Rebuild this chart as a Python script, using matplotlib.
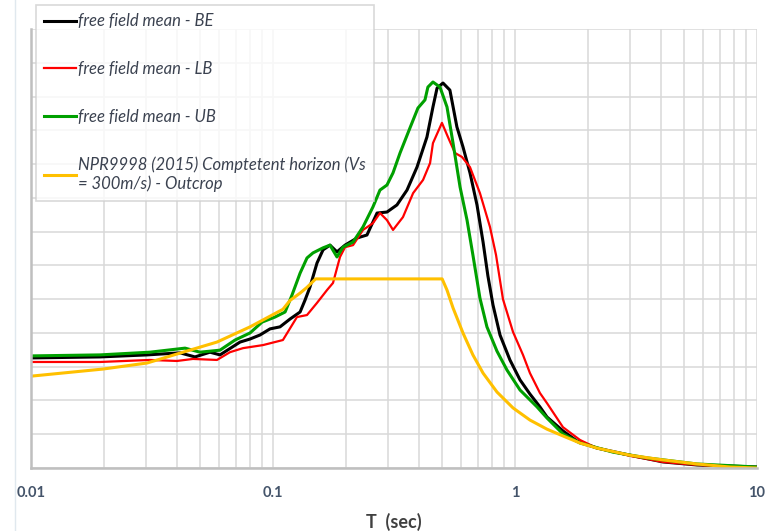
import matplotlib
matplotlib.use('Agg')
import matplotlib.pyplot as plt
from matplotlib.ticker import LogLocator, MultipleLocator, NullFormatter
from matplotlib.lines import Line2D

# period T (sec) and spectral values
t_be = [0.01, 0.0193, 0.0302, 0.0413, 0.0476, 0.0549, 0.0604, 0.0731, 0.0804, 0.0884,
        0.0972, 0.1069, 0.1175, 0.1294, 0.1356, 0.1422, 0.152, 0.161, 0.172, 0.1838,
        0.1985, 0.2223, 0.2445, 0.2691, 0.2958, 0.3252, 0.3579, 0.3936, 0.4326, 0.4581,
        0.4764, 0.504, 0.5383, 0.5754, 0.6095, 0.6516, 0.6966, 0.738, 0.7727, 0.811,
        0.867, 0.953, 1.049, 1.153, 1.268, 1.356, 1.578, 1.803, 2.182, 2.985,
        4.088, 5.649, 10.0]
sa_be = [0.326, 0.329, 0.335, 0.341, 0.329, 0.343, 0.335, 0.373, 0.382, 0.394,
         0.412, 0.418, 0.441, 0.462, 0.497, 0.536, 0.607, 0.646, 0.660, 0.640,
         0.660, 0.681, 0.690, 0.755, 0.758, 0.779, 0.823, 0.891, 0.980, 1.069,
         1.125, 1.140, 1.119, 1.010, 0.951, 0.874, 0.779, 0.669, 0.569, 0.483,
         0.394, 0.320, 0.261, 0.219, 0.181, 0.151, 0.110, 0.080, 0.059, 0.038,
         0.018, 0.009, 0.003]

t_lb = [0.01, 0.0193, 0.031, 0.0401, 0.0467, 0.0587, 0.0664, 0.0752, 0.0909, 0.1099,
        0.1256, 0.1382, 0.152, 0.1672, 0.177, 0.1892, 0.1985, 0.2142, 0.2355, 0.2588,
        0.2767, 0.2958, 0.3133, 0.3444, 0.3793, 0.4169, 0.4457, 0.4581, 0.499, 0.5284,
        0.5649, 0.6039, 0.6516, 0.7164, 0.788, 0.8347, 0.8918, 0.9812, 1.079, 1.153,
        1.268, 1.356, 1.578, 1.856, 2.182, 2.985, 4.088, 5.649, 10.0]
sa_lb = [0.314, 0.314, 0.320, 0.317, 0.323, 0.320, 0.343, 0.355, 0.364, 0.379,
         0.447, 0.453, 0.489, 0.527, 0.548, 0.625, 0.654, 0.660, 0.705, 0.725,
         0.755, 0.734, 0.705, 0.743, 0.814, 0.853, 0.903, 0.962, 1.022, 0.980,
         0.933, 0.921, 0.891, 0.814, 0.714, 0.631, 0.500, 0.403, 0.335, 0.281,
         0.222, 0.192, 0.121, 0.083, 0.059, 0.036, 0.018, 0.009, 0.003]

t_ub = [0.01, 0.0193, 0.031, 0.0433, 0.0499, 0.0604, 0.0697, 0.0804, 0.0901, 0.1019,
        0.1122, 0.1198, 0.1294, 0.1382, 0.1463, 0.161, 0.172, 0.1838, 0.1946, 0.2142,
        0.2355, 0.2588, 0.2767, 0.2958, 0.3133, 0.335, 0.3681, 0.3972, 0.4246, 0.4366,
        0.4581, 0.4898, 0.5236, 0.5546, 0.5929, 0.6336, 0.6699, 0.7164, 0.7656, 0.8425,
        0.9268, 1.049, 1.233, 1.356, 1.578, 1.856, 2.541, 3.508, 5.649, 10.0]
sa_ub = [0.332, 0.335, 0.343, 0.355, 0.343, 0.349, 0.379, 0.400, 0.432, 0.447,
         0.462, 0.512, 0.577, 0.622, 0.637, 0.652, 0.660, 0.625, 0.654, 0.669,
         0.714, 0.773, 0.823, 0.838, 0.874, 0.933, 1.007, 1.066, 1.090, 1.128,
         1.143, 1.128, 1.069, 0.962, 0.832, 0.734, 0.631, 0.503, 0.418, 0.346,
         0.290, 0.231, 0.181, 0.148, 0.101, 0.074, 0.047, 0.030, 0.012, 0.003]

t_npr = [0.01, 0.0198, 0.0302, 0.0425, 0.0587, 0.0804, 0.1099, 0.1175, 0.1294, 0.1382,
         0.15, 0.5, 0.5236, 0.5546, 0.6095, 0.6699, 0.738, 0.8425, 0.9812, 1.153,
         1.356, 1.578, 1.856, 2.182, 2.985, 4.088, 5.649, 7.727, 10.0]
sa_npr = [0.272, 0.293, 0.311, 0.343, 0.373, 0.418, 0.470, 0.496, 0.518, 0.535,
          0.560, 0.560, 0.527, 0.474, 0.400, 0.335, 0.281, 0.225, 0.178, 0.142,
          0.115, 0.095, 0.074, 0.059, 0.038, 0.024, 0.012, 0.003, 0.0]

labels = ['free field mean - BE', 'free field mean - LB', 'free field mean - UB',
          'NPR9998 (2015) Comptetent horizon (Vs\n= 300m/s) - Outcrop']
colors = ['#000000', '#ff0000', '#00a000', '#ffc000']

fig = plt.figure(figsize=(7.69, 5.31), dpi=100)
ax = fig.add_axes([0.0403, 0.1186, 0.9441, 0.8268])

ax.plot(t_be, sa_be, color=colors[0], lw=2.2, label=labels[0])
ax.plot(t_lb, sa_lb, color=colors[1], lw=1.6, label=labels[1])
ax.plot(t_ub, sa_ub, color=colors[2], lw=2.2, label=labels[2])
ax.plot(t_npr, sa_npr, color=colors[3], lw=2.2, label=labels[3])

ax.set_xscale('log')
ax.set_xlim(0.01, 10)
ax.set_ylim(0, 1.3)
ax.xaxis.set_major_locator(LogLocator(base=10))
ax.xaxis.set_minor_locator(LogLocator(base=10, subs=range(2, 10)))
ax.xaxis.set_minor_formatter(NullFormatter())
ax.set_xticks([0.01, 0.1, 1, 10])
ax.set_xticklabels(['0.01', '0.1', '1', '10'])
ax.yaxis.set_major_locator(MultipleLocator(0.1))
ax.set_yticklabels([])

ax.grid(True, which='both', color='#d9d9d9', lw=1.1)
ax.set_axisbelow(True)
ax.tick_params(which='both', length=0)
ax.tick_params(axis='x', pad=13, labelsize=10.5, labelcolor='#44546a')
for lab in ax.get_xticklabels():
    lab.set_fontweight('bold')
    lab.set_family('Lato')

for side in ['top', 'right']:
    ax.spines[side].set_visible(False)
for side in ['left', 'bottom']:
    ax.spines[side].set_color('#bfbfbf')
    ax.spines[side].set_linewidth(1.8)

ax.set_xlabel('T  (sec)', fontsize=13, fontweight='bold', color='#404040',
              family='Lato', labelpad=9)

leg = ax.legend(loc='upper left', bbox_to_anchor=(36 / 769, 1 - 5 / 531),
                bbox_transform=fig.transFigure, frameon=True, fancybox=False,
                shadow=False, handlelength=1.9, handletextpad=0.12,
                labelspacing=1.9, borderpad=0.5, borderaxespad=0,
                prop={'family': 'Lato', 'style': 'italic', 'size': 12})
leg.get_frame().set_edgecolor('#d0d0d0')
leg.get_frame().set_linewidth(1.2)
for txt in leg.get_texts():
    txt.set_color('#3b4250')

fig.add_artist(Line2D([15 / 769, 15 / 769], [0, 1], color='#e0e8ee', lw=1))

fig.savefig('out.png', dpi=100)
